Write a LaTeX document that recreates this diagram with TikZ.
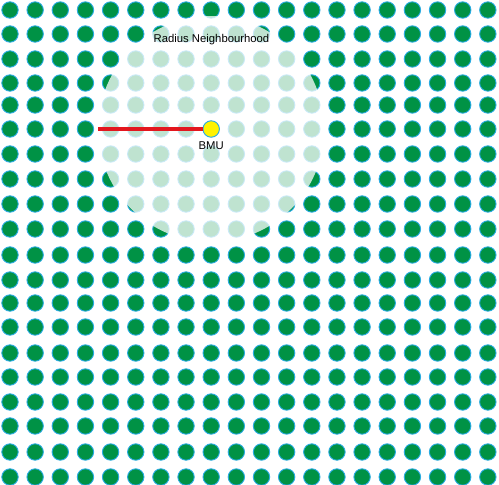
\documentclass[tikz,border=0pt]{standalone}
\usepackage{fontspec}
\setmainfont{Liberation Sans}
\usepackage{tikz}
\usetikzlibrary{positioning}
\definecolor{dotgreen}{HTML}{009245}
\definecolor{dotblue}{HTML}{29ABE2}
\definecolor{bmuyellow}{HTML}{FFF200}
\definecolor{reachred}{HTML}{E3171E}

\begin{document}
\begin{tikzpicture}[x=1pt, y=-1pt,
  neuron/.style={circle, minimum size=16.4pt, inner sep=0pt,
                 fill=dotgreen, draw=dotblue, line width=0.9pt},
  bmu/.style={neuron, fill=bmuyellow},
  hood/.style={fill=white, fill opacity=0.75},
  reach/.style={draw=reachred, line width=3.1pt},
  lbl/.style={inner sep=0pt, font=\fontsize{11.3}{13}\selectfont}]
  \useasboundingbox (0,0) rectangle (499,485);
  \foreach \y [count=\j from 0] in {10,34,59,83,105,129,154,179,204,229,
                                    255,280,303,327,353,377,402,426,452,477}
    \foreach \i in {0,...,19}
      {\node[neuron] (n-\i-\j) at (10+25.15*\i, \y) {};}
  \coordinate (centre) at (n-8-5);
  \fill[hood] (centre) circle[radius=113];
  \coordinate (edge) at ([xshift=-113pt]centre);
  \node[bmu] (bmu) at (centre) {};
  \draw[reach] (edge) -- (bmu);
  \node[lbl, below=4pt of bmu] (bmulbl) {BMU};
  \node[lbl] (title) at (211.5, 40) {Radius Neighbourhood};
\end{tikzpicture}
\end{document}
